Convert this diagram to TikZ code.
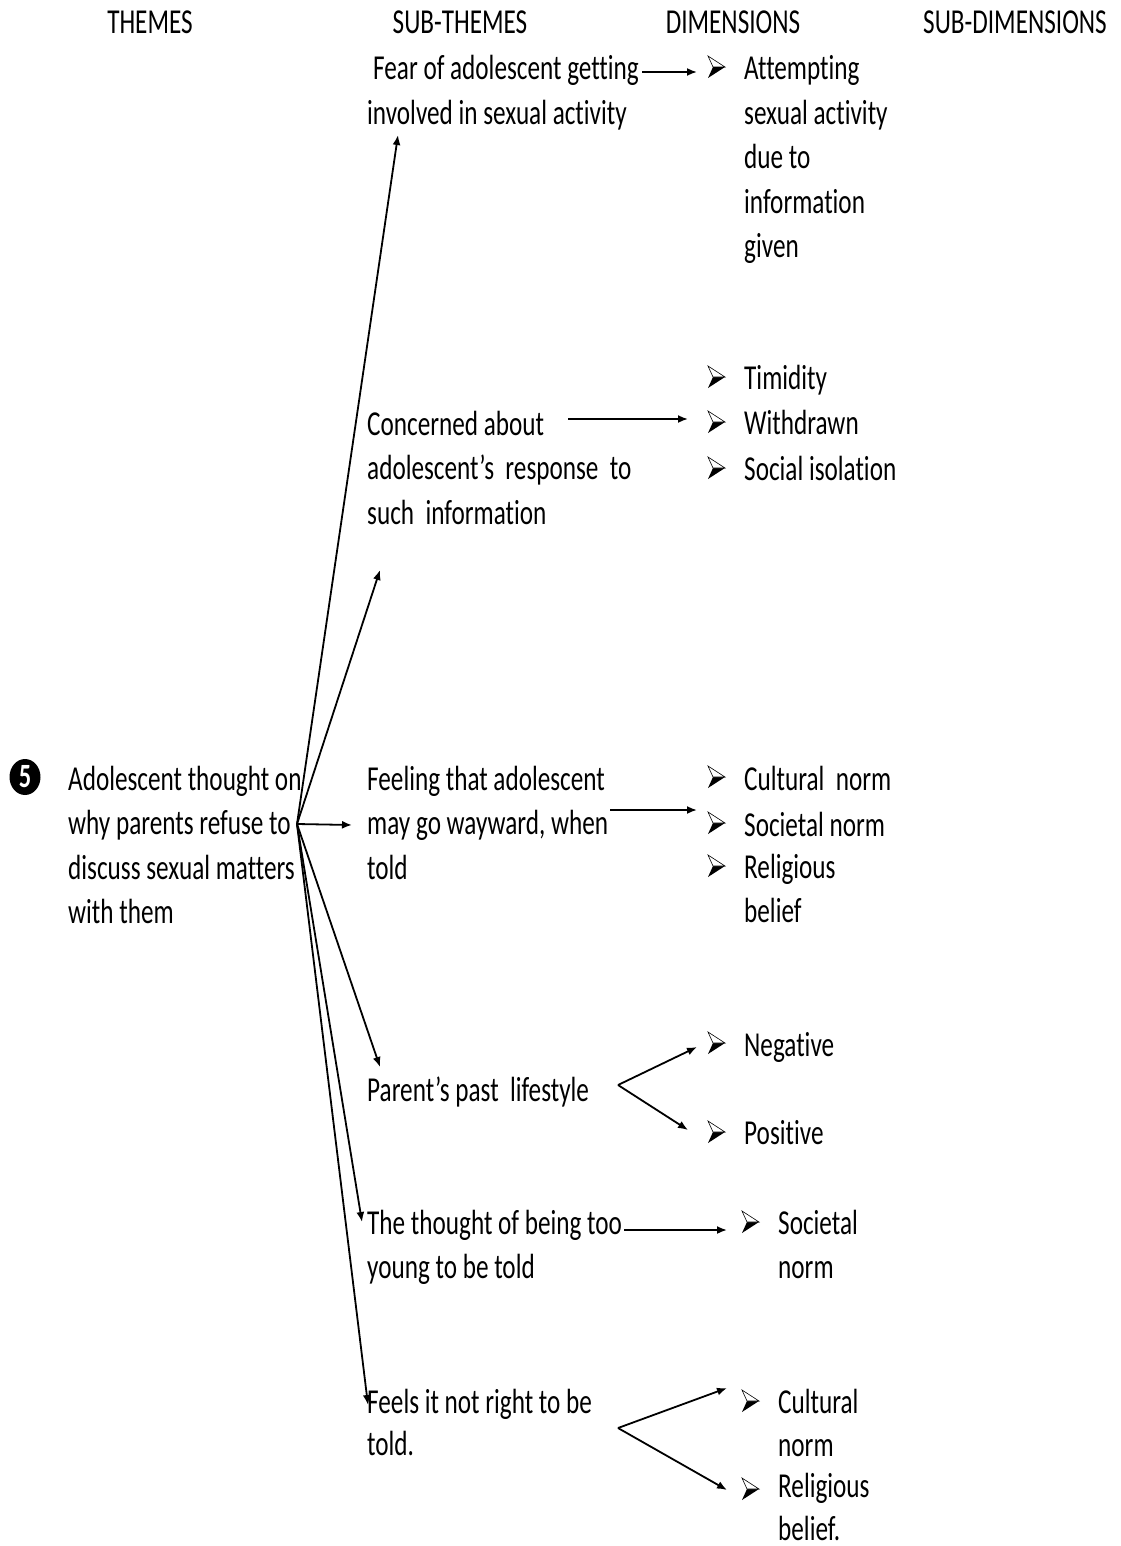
\documentclass[tikz,border=0pt]{standalone}
\usepackage{fontspec}
\setmainfont{Carlito}[FakeStretch=0.72,Ligatures={NoCommon}]
\usetikzlibrary{arrows.meta,shapes.geometric}
\newcommand{\bulletmark}[2]{%
  \fill[black] (#1-8,#2+11) -- (#1+9,#2) -- (#1-3,#2) -- cycle;
  \draw[black, line width=0.6pt, fill=white] (#1-8,#2-11) -- (#1+9,#2) -- (#1-3,#2) -- cycle;
}
\begin{document}
\begin{tikzpicture}[x=1pt,y=-1pt,
 txt/.style={anchor=base west, inner sep=0pt, align=left, font=\fontsize{35}{44.5}\selectfont},
 hdr/.style={anchor=base, inner sep=0pt, font=\fontsize{35}{44}\selectfont},
 arr/.style={line width=1.8pt, -{Latex[length=10pt,width=8pt]}}]
\useasboundingbox[fill=white] (0,0) rectangle (1120,1546);
% headers
\node[hdr] (h1) at (150,34) {THEMES};
\node[hdr] (h2) at (460,34) {SUB-THEMES};
\node[hdr] (h3) at (733,34) {DIMENSIONS};
\node[hdr] (h4) at (1015,34) {SUB-DIMENSIONS};
% theme
\node[ellipse, fill=black, minimum width=31pt, minimum height=36pt, inner sep=0pt, text=white, font=\fontsize{34}{36}\selectfont\bfseries] (num) at (25,777) {5};
\node[txt] (theme) at (68,923.5) {Adolescent thought on\\why parents refuse to\\discuss sexual matters\\with them};
% sub-themes
\node[txt] (s1) at (367,124.5) {\hspace*{6pt}Fear of adolescent getting\\involved in sexual activity};
\node[txt] (s2) at (367,524) {Concerned about\\adolescent’s\ \ response\ \ to\\such\ \ information};
\node[txt] (s3) at (367,879) {Feeling that adolescent\\may go wayward, when\\told};
\node[txt] (s4) at (367,1101) {Parent’s past\ \ lifestyle};
\node[txt] (s5) at (367,1278.5) {The thought of being too\\young to be told};
\node[txt, font=\fontsize{35}{42}\selectfont] (s6) at (367,1455) {Feels it not right to be\\told.};
% dimensions
\bulletmark{716}{67}
\node[txt] (d1) at (744,258) {Attempting\\sexual activity\\due to\\information\\given};
\bulletmark{716}{377}
\node[txt] (d2) at (744,389) {Timidity};
\bulletmark{716}{422}
\node[txt] (d3) at (744,434) {Withdrawn};
\bulletmark{716}{468}
\node[txt] (d4) at (744,480) {Social isolation};
\bulletmark{716}{777}
\node[txt] (d5) at (744,790) {Cultural\ \ norm};
\bulletmark{716}{823}
\node[txt] (d6) at (744,836) {Societal norm};
\bulletmark{716}{866}
\node[txt] (d7) at (744,922.5) {Religious\\belief};
\bulletmark{716}{1043}
\node[txt] (d8) at (744,1056) {Negative};
\bulletmark{716}{1132}
\node[txt] (d9) at (744,1144) {Positive};
\bulletmark{750}{1222}
\node[txt] (d10) at (778,1278.5) {Societal\\norm};
\bulletmark{750}{1401}
\node[txt, font=\fontsize{35}{43}\selectfont] (d11) at (778,1456) {Cultural\\norm};
\bulletmark{750}{1489}
\node[txt, font=\fontsize{35}{43}\selectfont] (d12) at (778,1540) {Religious\\\smash{belief.}};
% connector coordinates
\coordinate (hub) at (297,824);
\coordinate (e1) at (398,135);
\coordinate (e2) at (380,570);
\coordinate (e3) at (352,825);
\coordinate (e4) at (380,1067);
\coordinate (e5) at (362,1222);
\coordinate (e6) at (368,1405);
\draw[arr] (hub) -- (e1);
\draw[arr] (hub) -- (e2);
\draw[arr] (hub) -- (e3);
\draw[arr] (hub) -- (e4);
\draw[arr] (hub) -- (e5);
\draw[arr] (hub) -- (e6);
\coordinate (f1a) at (642,72); \coordinate (f1b) at (697,72);
\draw[arr] (f1a) -- (f1b);
\coordinate (f2a) at (568,419); \coordinate (f2b) at (688,419);
\draw[arr] (f2a) -- (f2b);
\coordinate (f3a) at (610,810); \coordinate (f3b) at (697,810);
\draw[arr] (f3a) -- (f3b);
\coordinate (f4) at (618,1085); \coordinate (f4a) at (697,1047); \coordinate (f4b) at (688,1130);
\draw[arr] (f4) -- (f4a);
\draw[arr] (f4) -- (f4b);
\coordinate (f5a) at (624,1230); \coordinate (f5b) at (727,1230);
\draw[arr] (f5a) -- (f5b);
\coordinate (f6) at (618,1428); \coordinate (f6a) at (727,1388); \coordinate (f6b) at (727,1490);
\draw[arr] (f6) -- (f6a);
\draw[arr] (f6) -- (f6b);
\end{tikzpicture}
\end{document}
